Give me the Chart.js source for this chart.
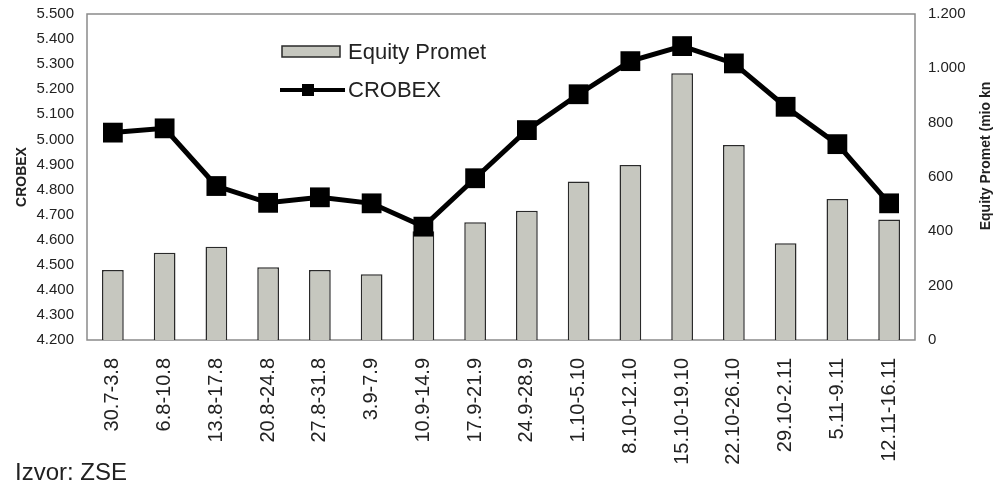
<!DOCTYPE html>
<html>
<head>
<meta charset="utf-8">
<script src="https://cdn.jsdelivr.net/npm/chart.js@4.4.1/dist/chart.umd.min.js"></script>
<style>
  html, body { margin: 0; padding: 0; background: #fff; }
  #wrap { position: relative; width: 998px; height: 483px; }
  #source {
    position: absolute; left: 15px; top: 458px; line-height: 24px;
    font: 24px "Liberation Sans", Arial, sans-serif; color: #222;
  }
</style>
</head>
<body>
<div id="wrap">
  <canvas id="chart" width="998" height="483"></canvas>
  <div id="source">Izvor: ZSE</div>
</div>
<script>
// weekly periods, CROBEX index and equity turnover (mio kn)
const weeks = ['30.7-3.8', '6.8-10.8', '13.8-17.8', '20.8-24.8', '27.8-31.8', '3.9-7.9',
  '10.9-14.9', '17.9-21.9', '24.9-28.9', '1.10-5.10', '8.10-12.10', '15.10-19.10',
  '22.10-26.10', '29.10-2.11', '5.11-9.11', '12.11-16.11'];
const crobex = [5027, 5044, 4814, 4747, 4769, 4745, 4652, 4845, 5037, 5180, 5312, 5372,
  5303, 5130, 4981, 4745];
const equityPromet = [258, 321, 343, 268, 258, 242, 400, 433, 476, 583, 644, 982,
  718, 356, 519, 444];
const crobexTicks = ['4.200', '4.300', '4.400', '4.500', '4.600', '4.700', '4.800',
  '4.900', '5.000', '5.100', '5.200', '5.300', '5.400', '5.500'];
const prometTicks = ['0', '200', '400', '600', '800', '1.000', '1.200'];

const FONT = '"Liberation Sans", Arial, sans-serif';
const INK = '#222';
const BAR_FILL = '#c6c7bf';
const BAR_EDGE = '#2a2a2a';

// grey frame round the plot
const frame = {
  id: 'frame',
  beforeDatasetsDraw(chart) {
    const a = chart.chartArea, ctx = chart.ctx;
    ctx.save();
    ctx.strokeStyle = '#8a8a8a';
    ctx.lineWidth = 1.5;
    ctx.strokeRect(a.left, a.top, a.right - a.left, a.bottom - a.top);
    ctx.restore();
  }
};

// legend inside the plot + right axis title (reads bottom to top, as in the print)
const extras = {
  id: 'extras',
  afterDraw(chart) {
    const ctx = chart.ctx;
    const ds = chart.data.datasets;
    ctx.save();
    ctx.font = '22px ' + FONT;
    ctx.textBaseline = 'middle';
    ctx.fillStyle = BAR_FILL;
    ctx.fillRect(282, 46, 58, 11);
    ctx.strokeStyle = BAR_EDGE;
    ctx.lineWidth = 1.5;
    ctx.strokeRect(282, 46, 58, 11);
    ctx.fillStyle = INK;
    ctx.fillText(ds[1].label, 348, 53);
    ctx.strokeStyle = '#000';
    ctx.lineWidth = 4;
    ctx.beginPath();
    ctx.moveTo(280, 90);
    ctx.lineTo(345, 90);
    ctx.stroke();
    ctx.fillStyle = '#000';
    ctx.fillRect(302, 84, 12, 12);
    ctx.fillStyle = INK;
    ctx.fillText(ds[0].label, 348, 91);

    ctx.translate(986, 156);
    ctx.rotate(-Math.PI / 2);
    ctx.textAlign = 'center';
    ctx.font = 'bold 14px ' + FONT;
    ctx.fillText('Equity Promet (mio kn', 0, 0);
    ctx.restore();
  }
};

new Chart(document.getElementById('chart'), {
  data: {
    labels: weeks,
    datasets: [
      {
        type: 'line',
        label: 'CROBEX',
        data: crobex,
        yAxisID: 'y',
        borderColor: '#000',
        borderWidth: 5,
        pointStyle: 'rect',
        pointRadius: 14,
        pointBorderWidth: 0,
        pointBackgroundColor: '#000',
        tension: 0,
        order: 0,
      },
      {
        type: 'bar',
        label: 'Equity Promet',
        data: equityPromet,
        yAxisID: 'y2',
        backgroundColor: BAR_FILL,
        borderColor: BAR_EDGE,
        borderWidth: 1.5,
        categoryPercentage: 0.84,
        barPercentage: 0.5,
        order: 1,
      },
    ],
  },
  options: {
    responsive: false,
    animation: false,
    layout: { autoPadding: false, padding: { top: 14, left: 0, right: 0, bottom: 0 } },
    plugins: { legend: { display: false }, tooltip: { enabled: false } },
    scales: {
      x: {
        grid: { display: false },
        border: { display: false },
        afterFit: (s) => { s.height = 143; },
        ticks: {
          color: INK, font: { family: FONT, size: 20 },
          maxRotation: 90, minRotation: 90, padding: 10, autoSkip: false,
        },
      },
      y: {
        position: 'left',
        min: 4200, max: 5500,
        grid: { display: false },
        border: { display: false },
        afterFit: (s) => { s.width = 87; },
        ticks: {
          stepSize: 100, color: INK, padding: 5,
          font: { family: FONT, size: 15 },
          callback: (v, i) => crobexTicks[i],
        },
        title: {
          display: true, text: 'CROBEX', color: INK,
          font: { family: FONT, size: 14, weight: 'bold' }, padding: { top: 14 },
        },
      },
      y2: {
        position: 'right',
        min: 0, max: 1200,
        grid: { display: false },
        border: { display: false },
        afterFit: (s) => { s.width = 83; },
        ticks: {
          stepSize: 200, color: INK, padding: 5,
          font: { family: FONT, size: 15 },
          callback: (v, i) => prometTicks[i],
        },
      },
    },
  },
  plugins: [frame, extras],
});
</script>
</body>
</html>
